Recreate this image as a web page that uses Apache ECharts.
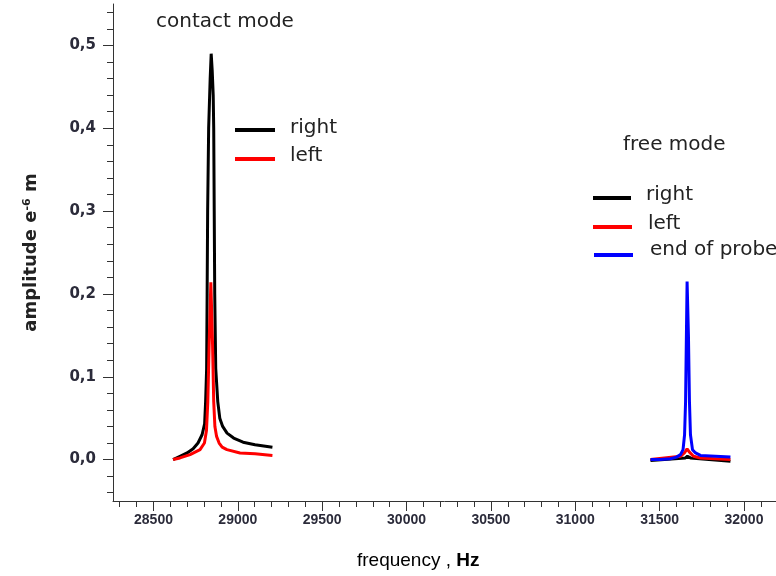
<!DOCTYPE html>
<html>
<head>
<meta charset="utf-8">
<script src="https://cdn.jsdelivr.net/npm/echarts@6/dist/echarts.min.js"></script>
<style>
  html, body { margin: 0; padding: 0; background: #fff; }
  #chart-view { width: 776px; height: 576px; }
</style>
</head>
<body>
<div id="chart-view"></div>
<script>
// contact mode (peak near 28840 Hz)
var contactRightHz = [28616, 28657, 28699, 28735, 28764, 28788, 28803, 28809, 28815, 28818, 28821, 28827, 28836, 28842, 28848, 28854, 28857, 28860, 28863, 28869, 28881, 28893, 28910, 28936, 28975, 29031, 29102, 29205];
var contactRightAmp = [0.0, 0.004, 0.008, 0.013, 0.02, 0.03, 0.043, 0.07, 0.11, 0.2, 0.3, 0.4, 0.46, 0.49, 0.47, 0.44, 0.4, 0.3, 0.2, 0.11, 0.07, 0.05, 0.04, 0.032, 0.026, 0.021, 0.018, 0.015];
var contactLeftHz = [28616, 28657, 28717, 28776, 28802, 28814, 28822, 28830, 28840, 28850, 28857, 28864, 28874, 28889, 28907, 28935, 29013, 29102, 29205];
var contactLeftAmp = [0.0, 0.002, 0.006, 0.012, 0.02, 0.035, 0.07, 0.14, 0.214, 0.14, 0.07, 0.04, 0.028, 0.02, 0.015, 0.012, 0.008, 0.007, 0.005];

// free mode (peak near 31660 Hz)
var freeRightHz = [31446, 31653, 31665, 31683, 31920];
var freeRightAmp = [-0.001, 0.002, 0.004, 0.002, -0.002];
var freeLeftHz = [31446, 31624, 31647, 31663, 31677, 31701, 31742, 31920];
var freeLeftAmp = [0.0, 0.004, 0.008, 0.013, 0.009, 0.004, 0.002, 0.0];
var probeEndHz = [31446, 31505, 31564, 31600, 31624, 31639, 31648, 31654, 31657, 31663, 31671, 31677, 31683, 31695, 31713, 31742, 31831, 31920];
var probeEndAmp = [0.0, 0.0, 0.001, 0.003, 0.006, 0.012, 0.03, 0.07, 0.12, 0.215, 0.15, 0.07, 0.03, 0.012, 0.008, 0.005, 0.004, 0.003];

// axis ticks
var xLabelTicks = [28500, 29000, 29500, 30000, 30500, 31000, 31500, 32000];
var xMinorTicks = [28300, 28400, 28600, 28700, 28800, 28900, 29100, 29200, 29300, 29400, 29600, 29700, 29800, 29900, 30100, 30200, 30300, 30400, 30600, 30700, 30800, 30900, 31100, 31200, 31300, 31400, 31600, 31700, 31800, 31900, 32100];
var yLabelTicks = [0, 0.1, 0.2, 0.3, 0.4, 0.5];
var yMinorTicks = [-0.04, -0.02, 0.02, 0.04, 0.06, 0.08, 0.12, 0.14, 0.16, 0.18, 0.22, 0.24, 0.26, 0.28, 0.32, 0.34, 0.36, 0.38, 0.42, 0.44, 0.46, 0.48, 0.52, 0.54];

var chart = echarts.init(document.getElementById('chart-view'));

function pairs(xs, ys) {
    var out = [];
    for (var i = 0; i < xs.length; i++) {
        out.push([xs[i], ys[i]]);
    }
    return out;
}

function lineSeries(name, color, xs, ys) {
    return {
        name: name,
        type: 'line',
        showSymbol: false,
        symbol: 'none',
        data: pairs(xs, ys),
        lineStyle: { color: color, width: 3 },
        itemStyle: { color: color },
        animation: false
    };
}

var axisColor = '#333';
var textFont = '20px DejaVu Sans';
var xMin = 28260, xMax = 32190, yMin = -0.05, yMax = 0.55;

var option = {
    backgroundColor: '#fff',
    animation: false,
    grid: { left: 113, top: 4, right: 0, height: 497 },
    xAxis: [
        {
            type: 'value', min: xMin, max: xMax,
            axisLine: { show: true, onZero: false, lineStyle: { color: axisColor, width: 1 } },
            axisTick: { show: true, customValues: xLabelTicks, length: 10, lineStyle: { color: axisColor } },
            axisLabel: {
                customValues: xLabelTicks, margin: 12,
                color: '#2b2b3a', fontFamily: 'Liberation Sans', fontWeight: 'bold', fontSize: 14,
                formatter: function (v) { return String(v); }
            },
            splitLine: { show: false }
        },
        {
            type: 'value', min: xMin, max: xMax, position: 'bottom',
            axisLine: { show: false, onZero: false },
            axisTick: { show: true, customValues: xMinorTicks, length: 6, lineStyle: { color: axisColor } },
            axisLabel: { show: false },
            splitLine: { show: false }
        }
    ],
    yAxis: [
        {
            type: 'value', min: yMin, max: yMax,
            axisLine: { show: true, onZero: false, lineStyle: { color: axisColor, width: 1 } },
            axisTick: { show: true, customValues: yLabelTicks, length: 10, lineStyle: { color: axisColor } },
            axisLabel: {
                customValues: yLabelTicks, margin: 17,
                color: '#2b2b3a', fontFamily: 'DejaVu Sans', fontWeight: 'bold', fontSize: 15,
                formatter: function (v) { return v.toFixed(1).replace('.', ','); }
            },
            splitLine: { show: false },
            name: '{b|amplitude e}{sup|-6}{b| m}',
            nameLocation: 'middle',
            nameRotate: 90,
            nameGap: 72,
            nameTextStyle: {
                rich: {
                    b: { fontFamily: 'DejaVu Sans', fontWeight: 'bold', fontSize: 18, color: '#222' },
                    sup: { fontFamily: 'DejaVu Sans', fontWeight: 'bold', fontSize: 11, color: '#222', verticalAlign: 'top', padding: [0, 0, 8, 0] }
                }
            }
        },
        {
            type: 'value', min: yMin, max: yMax, position: 'left',
            axisLine: { show: false, onZero: false },
            axisTick: { show: true, customValues: yMinorTicks, length: 6, lineStyle: { color: axisColor } },
            axisLabel: { show: false },
            splitLine: { show: false }
        }
    ],
    graphic: [
        { type: 'text', left: 156, top: 12, style: { text: 'contact mode', font: textFont, fill: '#222' } },
        { type: 'line', shape: { x1: 235, y1: 130, x2: 275, y2: 130 }, style: { stroke: '#000', lineWidth: 4 } },
        { type: 'line', shape: { x1: 235, y1: 159, x2: 275, y2: 159 }, style: { stroke: '#ff0000', lineWidth: 4 } },
        { type: 'text', left: 290, top: 118, style: { text: 'right', font: textFont, fill: '#222' } },
        { type: 'text', left: 290, top: 146, style: { text: 'left', font: textFont, fill: '#222' } },

        { type: 'text', left: 623, top: 135, style: { text: 'free mode', font: textFont, fill: '#222' } },
        { type: 'line', shape: { x1: 593, y1: 198, x2: 631, y2: 198 }, style: { stroke: '#000', lineWidth: 4 } },
        { type: 'line', shape: { x1: 593, y1: 227, x2: 632, y2: 227 }, style: { stroke: '#ff0000', lineWidth: 4 } },
        { type: 'line', shape: { x1: 594, y1: 255, x2: 633, y2: 255 }, style: { stroke: '#0000ff', lineWidth: 4 } },
        { type: 'text', left: 646, top: 185, style: { text: 'right', font: textFont, fill: '#222' } },
        { type: 'text', left: 648, top: 214, style: { text: 'left', font: textFont, fill: '#222' } },
        { type: 'text', left: 650, top: 240, style: { text: 'end of probe', font: textFont, fill: '#222' } },

        {
            type: 'text', left: 357, top: 551,
            style: {
                text: '{n|frequency , }{h|Hz}',
                rich: {
                    n: { fontFamily: 'Liberation Sans', fontSize: 19, color: '#222' },
                    h: { fontFamily: 'Liberation Sans', fontSize: 19, fontWeight: 'bold', color: '#222' }
                }
            }
        }
    ],
    series: [
        lineSeries('right', '#000000', contactRightHz, contactRightAmp),
        lineSeries('left', '#ff0000', contactLeftHz, contactLeftAmp),
        lineSeries('right ', '#000000', freeRightHz, freeRightAmp),
        lineSeries('left ', '#ff0000', freeLeftHz, freeLeftAmp),
        lineSeries('end of probe', '#0000ff', probeEndHz, probeEndAmp)
    ]
};

chart.setOption(option);
</script>
</body>
</html>
